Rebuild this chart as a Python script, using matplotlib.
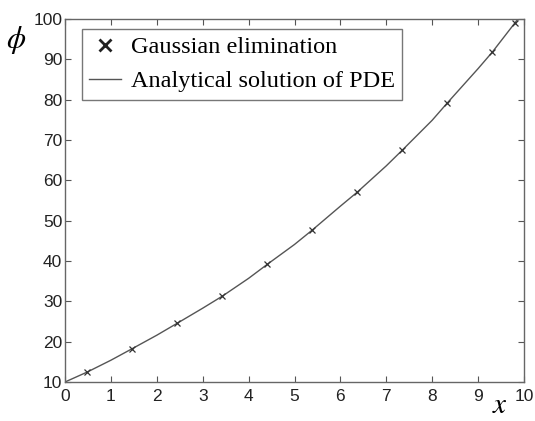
import matplotlib
matplotlib.use("Agg")
import matplotlib.pyplot as plt
from matplotlib.lines import Line2D

# Gaussian elimination nodes
x_nodes = [0.49, 1.47, 2.45, 3.43, 4.41, 5.39, 6.37, 7.35, 8.33, 9.31, 9.80]
phi_nodes = [12.5, 18.3, 24.6, 31.3, 39.2, 47.7, 57.1, 67.5, 79.2, 91.8, 99.0]

# Analytical solution of the PDE
x_exact = [0.0, 0.49, 1.0, 1.47, 2.0, 2.45, 3.0, 3.43, 4.0, 4.41, 5.0, 5.39,
           6.0, 6.37, 7.0, 7.35, 8.0, 8.33, 9.0, 9.31, 9.80, 10.0]
phi_exact = [10.0, 12.5, 15.4, 18.3, 21.6, 24.6, 28.3, 31.3, 35.7, 39.2, 44.1, 47.7,
             53.6, 57.1, 63.6, 67.5, 74.9, 79.2, 87.7, 91.8, 99.0, 101.9]

x_ticks = list(range(0, 11))
y_ticks = list(range(10, 101, 10))

plt.rcParams['font.family'] = ['Liberation Sans', 'DejaVu Sans']
plt.rcParams['mathtext.fontset'] = 'stix'

fig = plt.figure(figsize=(5.35, 4.21), dpi=100)
ax = fig.add_axes([65 / 535, 1 - 382 / 421, (524 - 65) / 535, (382 - 19) / 421])

line_col = '#555555'
ax.plot(x_exact, phi_exact, color=line_col, lw=1.0)
ax.plot(x_nodes, phi_nodes, linestyle='none', marker='x', color='#333333',
        markersize=4, markeredgewidth=0.9)

ax.set_xlim(0, 10)
ax.set_ylim(10, 100)
ax.set_xticks(x_ticks)
ax.set_yticks(y_ticks)
ax.tick_params(direction='in', length=4, width=0.8, color='#555555',
               top=True, right=True, labelsize=12.5, labelcolor='#222222')
ax.tick_params(axis='x', pad=5)
ax.tick_params(axis='y', pad=2)
for s in ax.spines.values():
    s.set_color('#666666')
    s.set_linewidth(1.0)

handles = [
    Line2D([], [], linestyle='none', marker='x', color='#222222',
           markersize=8, markeredgewidth=2),
    Line2D([], [], color=line_col, lw=1.0),
]
leg = ax.legend(handles, ['Gaussian elimination', 'Analytical solution of PDE'],
                loc='upper left', bbox_to_anchor=(17 / 459, 1 - 10 / 363),
                prop={'family': 'Liberation Serif', 'size': 17.5},
                frameon=True, fancybox=False, edgecolor='#555555',
                handlelength=1.3, handletextpad=0.4, borderpad=0.3,
                labelspacing=0.5, borderaxespad=0)
leg.get_frame().set_linewidth(1.0)

fig.text(16 / 535, 1 - 40 / 421, r'$\phi$', fontsize=22, ha='center', va='center')
fig.text(500 / 535, 1 - 405 / 421, r'$x$', fontsize=21, ha='center', va='center')

fig.savefig('out.png', dpi=100)
